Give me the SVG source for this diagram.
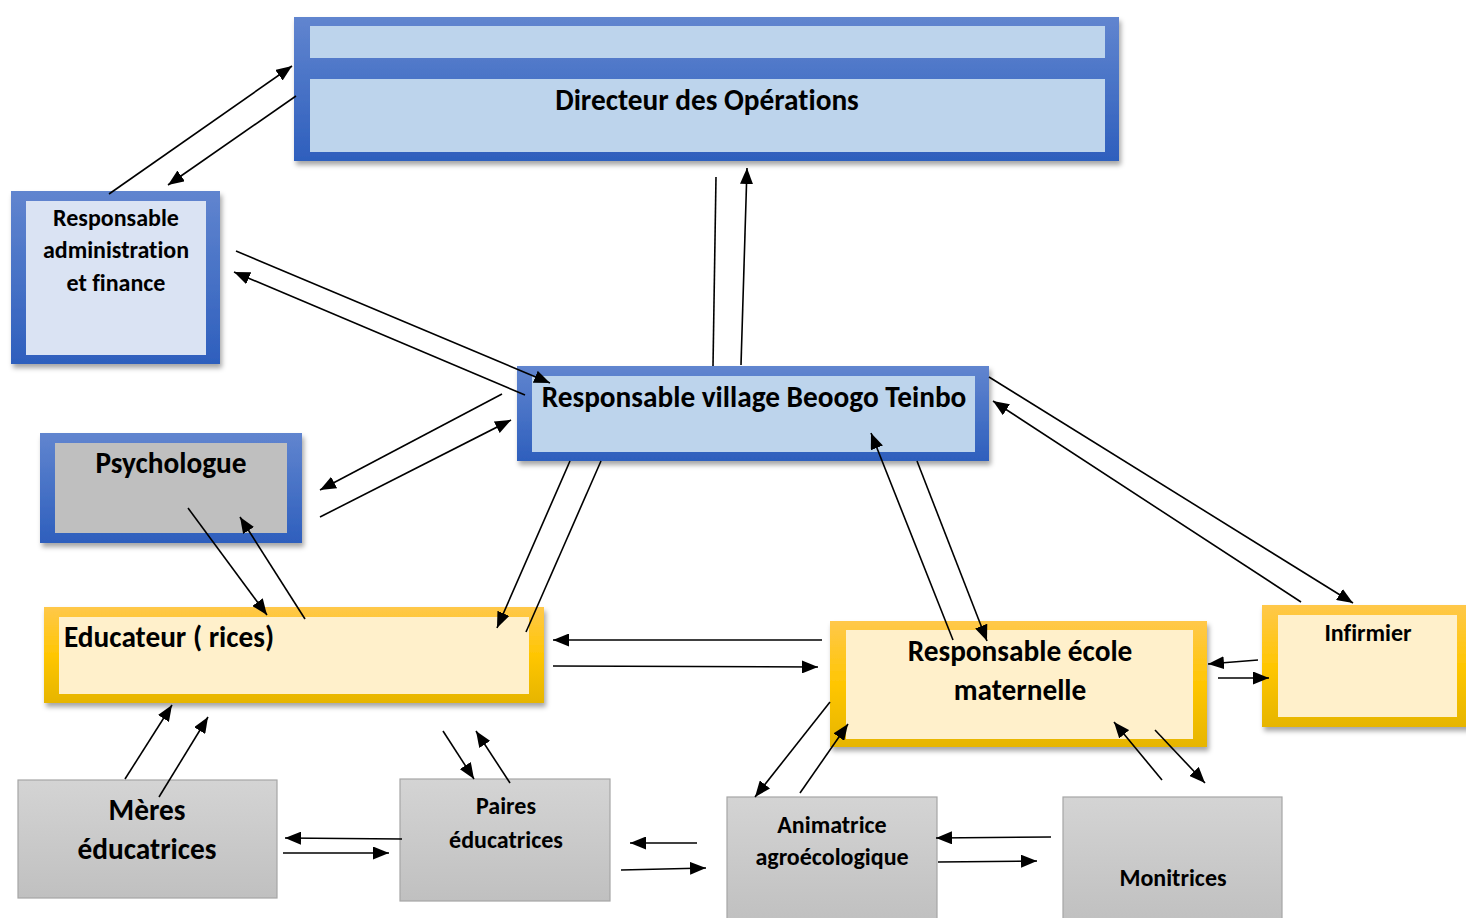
<svg xmlns="http://www.w3.org/2000/svg" width="1466" height="918" viewBox="0 0 1466 918">
<style>
text{font-family:Carlito,Lato,"Liberation Sans",sans-serif;font-weight:bold;fill:#000;text-anchor:middle;dominant-baseline:central;font-variant-ligatures:none}
.big{font-size:29.3px}
.sm{font-size:24px}
.con line{stroke:#000;stroke-width:1.6;fill:none}
.a{marker-end:url(#ah)}
.blue{fill:url(#gb)}
.gold{fill:url(#gy)}
.gray{fill:url(#gg);stroke:#a6a6a6;stroke-width:1.2}
.sh{filter:url(#ds)}
</style>
<defs>
<linearGradient id="gb" x1="0" y1="0" x2="0" y2="1"><stop offset="0" stop-color="#6185cf"/><stop offset="1" stop-color="#2e5fbd"/></linearGradient>
<linearGradient id="gy" x1="0" y1="0" x2="0" y2="1"><stop offset="0" stop-color="#ffc84a"/><stop offset="0.5" stop-color="#ffc603"/><stop offset="1" stop-color="#e6b500"/></linearGradient>
<linearGradient id="gg" x1="0" y1="0" x2="0" y2="1"><stop offset="0" stop-color="#d4d4d4"/><stop offset="1" stop-color="#c0c0c0"/></linearGradient>
<filter id="ds" x="-10%" y="-10%" width="125%" height="130%"><feDropShadow dx="2" dy="4" stdDeviation="2.5" flood-color="#000" flood-opacity="0.35"/></filter>
<marker id="ah" viewBox="0 0 16 13" refX="16" refY="6.5" markerWidth="16" markerHeight="13" markerUnits="userSpaceOnUse" orient="auto"><path d="M0,0 L16,6.5 L0,13 z" fill="#000"/></marker>
</defs>

<g id="directeur">
<rect class="blue sh" x="294" y="17" width="825" height="144"/>
<rect x="310" y="26" width="795" height="32" fill="#bdd4ec"/>
<rect x="310" y="79" width="795" height="73" fill="#bdd4ec"/>
<text class="big" x="707" y="100">Directeur des Opérations</text>
</g>

<g id="admin">
<rect class="blue sh" x="11" y="191" width="209" height="173"/>
<rect x="26" y="201" width="180" height="154" fill="#dae3f3"/>
<text class="sm" x="116" y="217">Responsable</text>
<text class="sm" x="116" y="249">administration</text>
<text class="sm" x="116" y="282">et finance</text>
</g>

<g id="psychologue">
<rect class="blue sh" x="40" y="433" width="262" height="110"/>
<rect x="55" y="443" width="232" height="90" fill="#bfbfbf"/>
<text class="big" x="171" y="463">Psychologue</text>
</g>

<g id="village">
<rect class="blue sh" x="517" y="366" width="472" height="95"/>
<rect x="532" y="376" width="443" height="76" fill="#bdd4ec"/>
<text class="big" x="754" y="397">Responsable village Beoogo Teinbo</text>
</g>

<g id="educateur">
<rect class="gold sh" x="44" y="607" width="500" height="96"/>
<rect x="59" y="617" width="470" height="77" fill="#fff0cb"/>
<text class="big" x="64" y="637" style="text-anchor:start">Educateur ( rices)</text>
</g>

<g id="ecole">
<rect class="gold sh" x="830" y="621" width="377" height="126"/>
<rect x="846" y="630" width="347" height="109" fill="#fff0cb"/>
<text class="big" x="1020" y="651">Responsable école</text>
<text class="big" x="1020" y="690">maternelle</text>
</g>

<g id="infirmier">
<rect class="gold sh" x="1262" y="605" width="210" height="122"/>
<rect x="1278" y="615" width="179" height="102" fill="#fff0cb"/>
<text class="sm" x="1368" y="632">Infirmier</text>
</g>

<g id="meres">
<rect class="gray" x="18" y="780" width="259" height="118"/>
<text class="big" x="147" y="810">Mères</text>
<text class="big" x="147" y="849">éducatrices</text>
</g>

<g id="paires">
<rect class="gray" x="400" y="779" width="210" height="122"/>
<text class="sm" x="506" y="805">Paires</text>
<text class="sm" x="506" y="839">éducatrices</text>
</g>

<g id="animatrice">
<rect class="gray" x="727" y="797" width="210" height="125"/>
<text class="sm" x="832" y="824">Animatrice</text>
<text class="sm" x="832" y="856">agroécologique</text>
</g>

<g id="monitrices">
<rect class="gray" x="1063" y="797" width="219" height="125"/>
<text class="sm" x="1173" y="877">Monitrices</text>
</g>

<g id="connectors" class="con">
<line class="a" x1="109" y1="194" x2="292" y2="66"/>
<line class="a" x1="296" y1="96" x2="168" y2="185"/>
<line class="a" x1="525" y1="395" x2="234" y2="272"/>
<line class="a" x1="236" y1="251" x2="550" y2="383"/>
<line class="a" x1="741" y1="365" x2="747" y2="168"/>
<line x1="716" y1="177" x2="713" y2="366"/>
<line class="a" x1="502" y1="394" x2="320" y2="490"/>
<line class="a" x1="320" y1="517" x2="511" y2="420"/>
<line class="a" x1="570" y1="461" x2="497" y2="628"/>
<line x1="526" y1="632" x2="601" y2="461"/>
<line class="a" x1="188" y1="508" x2="267" y2="615"/>
<line class="a" x1="305" y1="619" x2="240" y2="517"/>
<line class="a" x1="822" y1="640" x2="553" y2="640"/>
<line class="a" x1="553" y1="666" x2="818" y2="667"/>
<line class="a" x1="953" y1="640" x2="871" y2="433"/>
<line class="a" x1="917" y1="461" x2="987" y2="641"/>
<line class="a" x1="1301" y1="602" x2="993" y2="401"/>
<line class="a" x1="989" y1="377" x2="1353" y2="603"/>
<line class="a" x1="1258" y1="660" x2="1208" y2="664"/>
<line class="a" x1="1218" y1="678" x2="1269" y2="678"/>
<line class="a" x1="125" y1="779" x2="172" y2="705"/>
<line class="a" x1="159" y1="797" x2="208" y2="717"/>
<line class="a" x1="443" y1="731" x2="474" y2="779"/>
<line class="a" x1="510" y1="783" x2="476" y2="731"/>
<line class="a" x1="402" y1="839" x2="285" y2="838"/>
<line class="a" x1="283" y1="853" x2="389" y2="853"/>
<line class="a" x1="697" y1="843" x2="630" y2="843"/>
<line class="a" x1="621" y1="870" x2="706" y2="868"/>
<line class="a" x1="830" y1="702" x2="755" y2="797"/>
<line class="a" x1="800" y1="793" x2="848" y2="724"/>
<line class="a" x1="1051" y1="837" x2="936" y2="838"/>
<line class="a" x1="938" y1="862" x2="1037" y2="861"/>
<line class="a" x1="1162" y1="780" x2="1114" y2="722"/>
<line class="a" x1="1155" y1="730" x2="1205" y2="783"/>
</g>
</svg>
